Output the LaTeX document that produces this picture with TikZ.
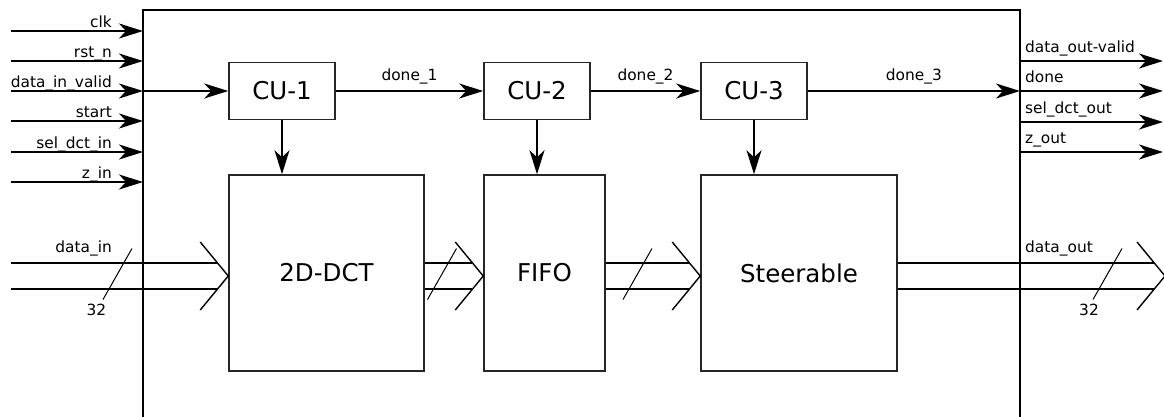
\documentclass[tikz,border=0pt]{standalone}
\usepackage{fontspec}
\setmainfont{DejaVu Sans}
\usetikzlibrary{arrows.meta}
\usetikzlibrary{calc}
\usetikzlibrary{positioning}
\tikzset{line/.style={black,>={Stealth[length=24pt,width=15pt,inset=7pt]},line width=1.4pt}}
\tikzset{sig/.style={line,line width=2pt}}
\tikzset{frame/.style={black,line width=2.6pt}}
\tikzset{cu/.style={rectangle,draw=black!85,line width=1.5pt,minimum width=106pt,minimum height=57pt,inner sep=0pt,font=\fontsize{24.5}{28}\selectfont}}
\tikzset{block/.style={cu,minimum height=196pt}}
\tikzset{bus/.style={black,line width=1.4pt}}
\tikzset{slash/.style={black,line width=1pt}}
\tikzset{lbl/.style={inner sep=0pt,font=\fontsize{15.4}{18}\selectfont}}
\newcommand{\busarrow}[2]{%
  \draw[bus] ($(#1)+(0,-13)$) -- ($(#2)+(-11,-13)$);
  \draw[bus] ($(#1)+(0,13)$) -- ($(#2)+(-11,13)$);
  \draw[bus] ($(#2)+(-28,-34)$) -- (#2) -- ($(#2)+(-28,34)$);}
\newcommand{\busslash}[1]{\draw[slash] ($(#1)+(-14.5,25.5)$) -- ($(#1)+(14.5,-25.5)$);}
\begin{document}
\begin{tikzpicture}[x=1pt,y=-1pt]
  \useasboundingbox (0,0) rectangle (1164,416);
  % Frame
  \draw[frame] (143,420) -- (143,10) -- (1020,10) -- (1020,420);

  % Blocks
  \node[cu] (cu1) at (282,91) {CU-1};
  \node[cu] (cu2) at (537,91) {CU-2};
  \node[cu] (cu3) at (754,91) {CU-3};
  \node[block,minimum width=195pt] (dct) at (326.5,273) {2D-DCT};
  \node[block,minimum width=121pt] (fifo) at (544.5,273) {FIFO};
  \node[block,minimum width=196pt] (steer) at (799,273) {Steerable};

  % Inputs
  \foreach \lab/\y [count=\i] in {clk/31,rst\_n/61,data\_in\_valid/91,start/121,sel\_dct\_in/152,z\_in/182}
  {
    \coordinate (in\i) at (11,\y);
    \coordinate (fin\i) at (143,\y);
    \draw[sig,->] (in\i) -- (fin\i);
    \node[lbl,anchor=base east] (lin\i) at (112,\y-4) {\lab};
  }

  % Outputs
  \foreach \lab/\y [count=\i] in {data\_out-valid/61,done/91,sel\_dct\_out/122,z\_out/152}
  {
    \coordinate (fout\i) at (1020,\y);
    \coordinate (out\i) at (1163,\y);
    \draw[sig,->] (fout\i) -- (out\i);
    \node[lbl,anchor=base west] (lout\i) at (1025,\y-8.5) {\lab};
  }

  % Control
  \draw[line,->] (fin3) -- (cu1);
  \draw[line,->] (cu1) -- (cu2) node[lbl,midway,anchor=base,yshift=11pt] (ld1) {done\_1};
  \draw[line,->] (cu2) -- (cu3) node[lbl,midway,anchor=base,yshift=11pt] (ld2) {done\_2};
  \draw[line,->] (cu3) -- (fout2) node[lbl,midway,anchor=base,yshift=11pt] (ld3) {done\_3};
  \draw[line,->] (cu1) -- (cu1.south |- dct.north);
  \draw[line,->] (cu2) -- (cu2.south |- fifo.north);
  \draw[line,->] (cu3) -- (cu3.south |- steer.north);

  % Data bus
  \coordinate (bus) at (0,276);
  \coordinate (din) at (11,276);
  \coordinate (dctin) at (dct.west |- bus);
  \coordinate (dctout) at (dct.east |- bus);
  \coordinate (fifoin) at (fifo.west |- bus);
  \coordinate (fifoout) at (fifo.east |- bus);
  \coordinate (steerin) at (steer.west |- bus);
  \coordinate (steerout) at (steer.east |- bus);
  \coordinate (dout) at (1165,276);
  \busarrow{din}{dctin}
  \busarrow{dctout}{fifoin}
  \busarrow{fifoout}{steerin}
  \busarrow{steerout}{dout}
  \busslash{117.5,274}
  \busslash{442,274}
  \busslash{637.5,274}
  \busslash{1107.5,274}
  \node[lbl,anchor=base east] (ldin) at (112,252) {data\_in};
  \node[lbl] (win) at (96.5,310) {32};
  \node[lbl,anchor=base west] (ldout) at (1025,252) {data\_out};
  \node[lbl] (wout) at (1089,310) {32};
\end{tikzpicture}
\end{document}
